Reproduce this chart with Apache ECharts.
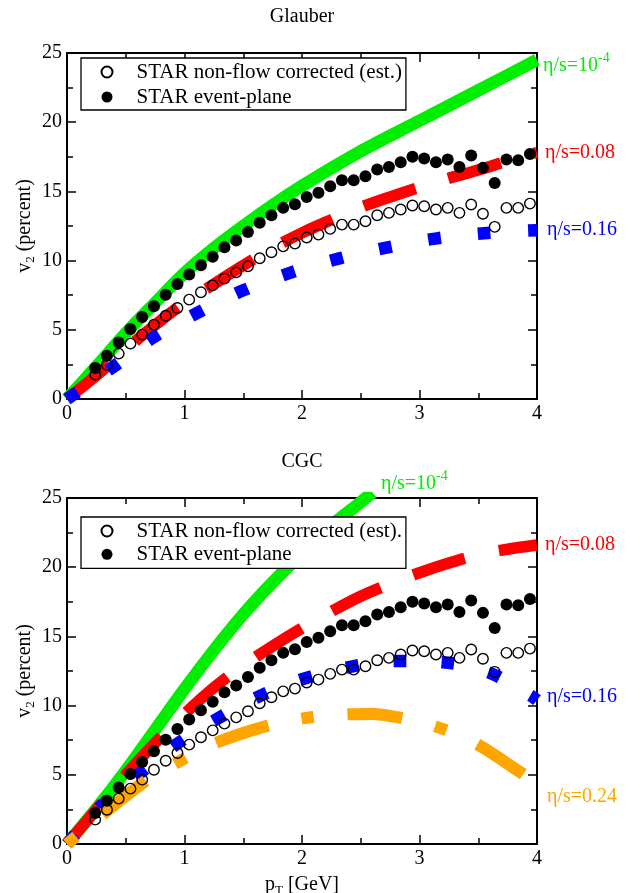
<!DOCTYPE html>
<html>
<head>
<meta charset="utf-8">
<script src="https://cdn.jsdelivr.net/npm/echarts@6/dist/echarts.min.js"></script>
<style>html,body{margin:0;padding:0;background:#fff;}#c{width:640px;height:893px;}</style>
</head>
<body>
<div id="c"></div>
<script>
// ---------- data ----------
const ptData = [0.24,0.34,0.44,0.54,0.64,0.74,0.84,0.94,1.04,1.14,1.24,1.34,1.44,1.54,1.64,1.74,1.84,1.94,2.04,2.14,2.24,2.34,2.44,2.54,2.64,2.74,2.84,2.94,3.04,3.14,3.24,3.34,3.44,3.54,3.64,3.74,3.84,3.94];
const nonflowV2 = [1.76,2.48,3.28,4.00,4.65,5.37,6.02,6.58,7.18,7.71,8.21,8.70,9.15,9.59,10.17,10.60,11.03,11.23,11.67,11.88,12.29,12.60,12.60,12.84,13.28,13.45,13.69,13.98,13.93,13.69,13.81,13.45,14.05,13.38,12.44,13.81,13.81,14.12];
const eventPlaneV2 = [2.24,3.13,4.09,5.06,5.93,6.70,7.54,8.31,8.99,9.66,10.27,10.96,11.45,12.07,12.73,13.28,13.81,14.08,14.59,14.90,15.37,15.80,15.80,16.10,16.58,16.77,17.10,17.50,17.37,17.10,17.30,16.77,17.59,16.70,15.60,17.30,17.25,17.70];

// Glauber hydro curves
const glIdealPt = [0,0.25,0.5,0.75,1,1.25,1.5,1.75,2,2.5,3,3.5,4];
const glIdealV2 = [0,2.35,4.75,6.95,9.1,10.9,12.5,14.0,15.4,17.9,20.1,22.3,24.5];
const gl08Pt = [0,0.25,0.5,0.75,1,1.25,1.5,1.75,2,2.25,2.5,2.75,3,3.25,3.5,3.75,4];
const gl08V2 = [0,1.7,3.6,5.35,6.95,8.3,9.65,10.9,12.0,12.95,13.85,14.6,15.3,15.95,16.55,17.2,17.8];
const gl16Pt = [0,0.4,0.74,1.13,1.5,1.91,2.31,2.73,3.15,3.58,4];
const gl16V2 = [0,2.36,4.48,6.31,7.85,9.15,10.14,10.96,11.61,12.0,12.2];

// CGC hydro curves
const cgcIdealPt = [0,0.25,0.5,0.75,1,1.25,1.5,1.75,2,2.25,2.5,2.6];
const cgcIdealV2 = [0,2.55,5.3,8.25,11.2,14.0,16.6,18.9,21.0,23.0,24.7,25.4];
const cgc08Pt = [0,0.25,0.5,0.75,1,1.25,1.5,1.75,2,2.25,2.5,2.75,3,3.25,3.5,3.75,4];
const cgc08V2 = [0,2.5,5.0,7.3,9.4,11.3,12.9,14.3,15.6,16.8,17.9,18.8,19.6,20.3,20.9,21.3,21.6];
const cgc16Pt = [0,0.3,0.62,0.93,1.27,1.63,2.0,2.4,2.8,3.2,3.59,3.95,4];
const cgc16V2 = [0,2.8,5.11,7.2,9.0,10.65,11.9,12.78,13.23,13.13,12.39,10.7,10.4];
const cgc24Pt = [0,0.28,0.66,0.95,1.26,1.68,2.02,2.35,2.6,2.81,3.14,3.45,3.85,4];
const cgc24V2 = [0,1.97,4.5,5.95,7.28,8.48,9.09,9.35,9.4,9.16,8.48,7.4,5.23,4.3];

// axis ticks
const xTickLabels = [0,1,2,3,4];
const yTickLabels = [0,5,10,15,20,25];

// ---------- chart ----------
const F = 'Liberation Serif';
const GREEN = '#00ee00', RED = '#ff0000', BLUE = '#0000ff', ORANGE = '#ffa500';
const pairs = (xs, ys) => xs.map((x, i) => [x, ys[i]]);

const xMin = xTickLabels[0], xMax = xTickLabels[xTickLabels.length - 1];
const yMin = yTickLabels[0], yMax = yTickLabels[yTickLabels.length - 1];

function axisCommon(showLabel) {
  return {
    axisLine: { show: true, onZero: false, lineStyle: { color: '#000', width: 2 } },
    axisTick: { show: true, inside: true, length: 9, lineStyle: { color: '#000', width: 1.5 } },
    minorTick: { show: true, splitNumber: 2, length: 6, lineStyle: { color: '#000', width: 1.5 } },
    splitLine: { show: false },
    minorSplitLine: { show: false },
    axisLabel: { show: showLabel, fontSize: 20, fontFamily: F, color: '#000', margin: 5, showMinLabel: true, showMaxLabel: true },
  };
}
const nameRich = {
  a: { fontFamily: F, fontSize: 20, color: '#000' },
  b: { fontFamily: F, fontSize: 13, color: '#000', padding: [11, 0, 0, 0] }
};
function xAx(grid, pos, showLabel, name) {
  const a = Object.assign({ type: 'value', gridIndex: grid, position: pos, min: xMin, max: xMax, interval: 1 }, axisCommon(showLabel));
  if (name) {
    a.name = name; a.nameLocation = 'middle'; a.nameGap = 29; a.nameMoveOverlap = false;
    a.nameTextStyle = { fontFamily: F, fontSize: 20, color: '#000', rich: nameRich };
  }
  return a;
}
function yAx(grid, pos, showLabel, name) {
  const a = Object.assign({ type: 'value', gridIndex: grid, position: pos, min: yMin, max: yMax, interval: 5 }, axisCommon(showLabel));
  if (name) {
    a.name = name; a.nameLocation = 'middle'; a.nameGap = 30; a.nameMoveOverlap = false;
    a.nameTextStyle = { fontFamily: F, fontSize: 20, color: '#000', rich: nameRich };
  }
  return a;
}

function curve(name, xs, ys, g, color, width, dash) {
  return { type: 'line', name: name, xAxisIndex: g * 2, yAxisIndex: g * 2, data: pairs(xs, ys),
    showSymbol: false, symbol: 'none', silent: true, z: 2, clip: true, smooth: 0.35,
    lineStyle: { color: color, width: width, type: dash, cap: 'butt', join: 'round', opacity: 1 } };
}
function points(name, g, filled) {
  return { type: 'scatter', name: name, xAxisIndex: g * 2, yAxisIndex: g * 2, data: pairs(ptData, filled ? eventPlaneV2 : nonflowV2),
    symbol: 'circle', symbolSize: filled ? 12 : 10.5, silent: true, z: 5,
    itemStyle: filled ? { color: '#000', opacity: 1 } : { color: 'rgba(0,0,0,0)', borderColor: '#000', borderWidth: 1.4, opacity: 1 } };
}

const NF1 = 'STAR non-flow corrected (est.)';
const NF2 = 'STAR non-flow corrected (est).';
const EP = 'STAR event-plane';

function legend(top, names, gap, pad) {
  return { orient: 'vertical', left: 81, top: top, selectedMode: false,
    data: names.map(n => ({ name: n, icon: 'circle' })),
    itemWidth: 11, itemHeight: 11, itemGap: gap, padding: pad,
    borderColor: '#000', borderWidth: 1.3, backgroundColor: '#fff',
    textStyle: { fontFamily: F, fontSize: 21, color: '#000', lineHeight: 22, padding: [0, 0, 0, 19] } };
}

const sup = (color) => ({
  a: { fontFamily: F, fontSize: 20, color: color, lineHeight: 30 },
  b: { fontFamily: F, fontSize: 14, color: color, lineHeight: 14, verticalAlign: 'top' }
});
function label(x, y, text, color) {
  return { type: 'text', x: x, y: y, silent: true, z: 10,
    style: { text: text, rich: sup(color), fill: color, font: '20px "' + F + '"', verticalAlign: 'middle', align: 'left' } };
}
function title(x, y, text) {
  return { type: 'text', x: x, y: y, silent: true,
    style: { text: text, fill: '#000', font: '20px "' + F + '"', verticalAlign: 'middle', align: 'center' } };
}

const option = {
  animation: false,
  backgroundColor: '#fff',
  grid: [
    { left: 67, top: 53, width: 470, height: 346, outerBoundsMode: 'none', containLabel: false },
    { left: 67, top: 498, width: 470, height: 346, outerBoundsMode: 'none', containLabel: false }
  ],
  xAxis: [ xAx(0, 'bottom', true), xAx(0, 'top', false), xAx(1, 'bottom', true, '{a|p}{b|T}{a| [GeV]}'), xAx(1, 'top', false) ],
  yAxis: [ yAx(0, 'left', true, '{a|v}{b|2}{a| (percent)}'), yAx(0, 'right', false), yAx(1, 'left', true, '{a|v}{b|2}{a| (percent)}'), yAx(1, 'right', false) ],
  legend: [
    legend(58, [NF1, EP], 3, [3, 4, 2, 19.5]),
    legend(517, [NF2, EP], 1.3, [3, 4, 3, 19.5])
  ],
  series: [
    curve('gl ideal', glIdealPt, glIdealV2, 0, GREEN, 12.5, 'solid'),
    curve('gl 0.08', gl08Pt, gl08V2, 0, RED, 11.5, [55, 34]),
    curve('gl 0.16', gl16Pt, gl16V2, 0, BLUE, 12.5, [12.5, 37.5]),
    points(NF1, 0, false),
    points(EP, 0, true),
    curve('cgc ideal', cgcIdealPt, cgcIdealV2, 1, GREEN, 12.5, 'solid'),
    curve('cgc 0.08', cgc08Pt, cgc08V2, 1, RED, 11.5, [54, 35]),
    curve('cgc 0.16', cgc16Pt, cgc16V2, 1, BLUE, 12.5, [12.5, 35.5]),
    curve('cgc 0.24', cgc24Pt, cgc24V2, 1, ORANGE, 12, [12, 34, 55, 34]),
    points(NF2, 1, false),
    points(EP, 1, true)
  ],
  graphic: [
    title(302, 17, 'Glauber'),
    title(302, 462, 'CGC'),
    label(543, 66, '{a|η/s=10}{b|-4}', GREEN),
    label(545, 153, '{a|η/s=0.08}', RED),
    label(547, 230, '{a|η/s=0.16}', BLUE),
    label(381, 484, '{a|η/s=10}{b|-4}', GREEN),
    label(545, 545, '{a|η/s=0.08}', RED),
    label(547, 697, '{a|η/s=0.16}', BLUE),
    label(547, 797, '{a|η/s=0.24}', ORANGE)
  ]
};

const chart = echarts.init(document.getElementById('c'), null, { renderer: 'canvas' });
chart.setOption(option);
</script>
</body>
</html>
